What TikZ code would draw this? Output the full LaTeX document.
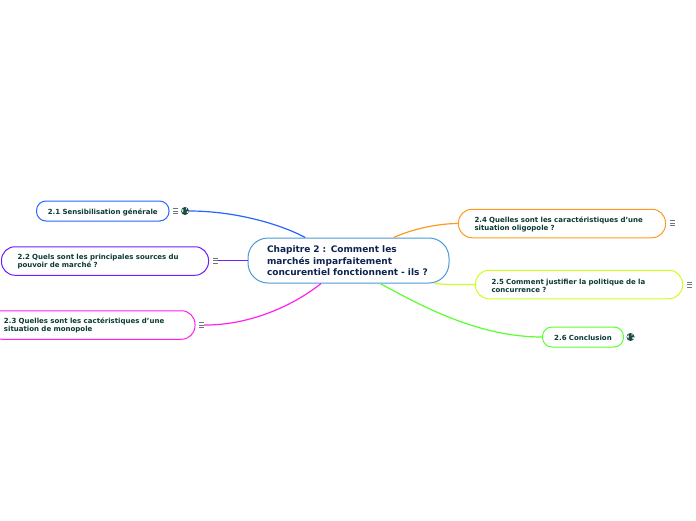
\documentclass[tikz,border=0pt]{standalone}
\usepackage{fontspec}
\setmainfont{DejaVu Sans}
\definecolor{cRoot}{HTML}{4A9AD8}
\definecolor{cA}{HTML}{2864FF}
\definecolor{cB}{HTML}{6A20FF}
\definecolor{cC}{HTML}{FF20F0}
\definecolor{cD}{HTML}{FF9A1E}
\definecolor{cE}{HTML}{CCFF1E}
\definecolor{cF}{HTML}{5AFF2E}
\definecolor{tRoot}{HTML}{0E2350}
\definecolor{tChild}{HTML}{0B3A33}
\definecolor{iconGrey}{HTML}{6A7A7A}
\definecolor{globeDark}{HTML}{1F4A40}
\usetikzlibrary{calc}
\tikzset{
  rootbox/.style={draw=cRoot,fill=white,line width=1pt,rounded corners=20pt,minimum width=201pt,minimum height=45pt,inner sep=0pt,text width=163pt,align=left,text=tRoot,font=\bfseries\fontsize{9pt}{11.5pt}\selectfont,execute at begin node={\rule{0pt}{7.6pt}}},
  childtwo/.style={draw=#1,fill=white,line width=1pt,rounded corners=13.5pt,minimum width=207pt,minimum height=28.5pt,inner sep=0pt,text width=175pt,align=left,text=tChild,font=\bfseries\fontsize{7pt}{8pt}\selectfont,execute at begin node={\rule{0pt}{7.4pt}}},
  childone/.style={draw=#1,fill=white,line width=1pt,rounded corners=9.5pt,minimum height=20pt,inner sep=0pt,text width=120pt,align=center,text=tChild,font=\bfseries\fontsize{7pt}{8pt}\selectfont,execute at begin node={\rule{0pt}{8pt}}},
  link/.style={draw=#1,line width=1.2pt},
  menuicon/.style={minimum width=5pt,minimum height=6pt,inner sep=0pt,path picture={
    \foreach \k in {0.08,0.5,0.92}{\draw[iconGrey,line width=0.8pt] ($(path picture bounding box.south west)!\k!(path picture bounding box.north west)$) -- ($(path picture bounding box.south east)!\k!(path picture bounding box.north east)$);}}},
  globeicon/.style={circle,fill=globeDark,minimum size=8pt,inner sep=0pt,path picture={
    \fill[white!80!cyan] ([xshift=-3.6pt,yshift=0.5pt]path picture bounding box.center) -- ++(1.6pt,1.8pt) -- ++(0.4pt,-2pt) -- ++(-0.6pt,-2pt) -- cycle;
    \fill[white!80!cyan] ([xshift=1.2pt,yshift=3.4pt]path picture bounding box.center) -- ++(1.2pt,-1.4pt) -- ++(-1.5pt,-0.6pt) -- cycle;
    \fill[white!80!cyan] ([xshift=1.5pt,yshift=-0.8pt]path picture bounding box.center) -- ++(2pt,1pt) -- ++(0pt,-2.2pt) -- ++(-1.4pt,0pt) -- cycle;}},
}
\begin{document}
\begin{tikzpicture}[x=1pt,y=-1pt]
\useasboundingbox (0,0) rectangle (696,520);
% nodes
\node[rootbox] (root) at (348.5,260.5) {Chapitre 2 : Comment les\\marchés imparfaitement\\concurentiel fonctionnent - ils ?};
\node[childone=cA,minimum width=132.5pt] (n1) at (102.75,211) {2.1 Sensibilisation générale};
\node[childtwo=cB] (n2) at (105,261) {2.2 Quels sont les principales sources du\\pouvoir de marché ?};
\node[childtwo=cC] (n3) at (91.5,325) {2.3 Quelles sont les cactéristiques d'une\\situation de monopole};
\node[childtwo=cD] (n4) at (562,223.5) {2.4 Quelles sont les caractéristiques d'une\\situation oligopole ?};
\node[childtwo=cE] (n5) at (579,284.5) {2.5 Comment justifier la politique de la\\concurrence ?};
\node[childone=cF,minimum width=81pt,text width=70pt] (n6) at (583,337) {2.6 Conclusion};
% icons
\node[menuicon] (m1) at (175.5,211) {};
\node[globeicon] (g1) at (185,211) {};
\node[menuicon] (m2) at (215.5,260.5) {};
\node[menuicon] (m3) at (201.5,325) {};
\node[menuicon] (m4) at (672.5,223) {};
\node[menuicon] (m5) at (689.5,284.5) {};
\node[globeicon] (g6) at (630.5,337) {};
% connectors
\draw[link=cA] (root.152.7) .. controls (280,224) and (235,211) .. (g1.east);
\draw[link=cB,line width=1pt] (root.west) -- (m2.east);
\draw[link=cC] (root.220.3) .. controls (285,312) and (240,325.5) .. (m3.east);
\draw[link=cD] (root.27.3) .. controls (415,228) and (440,223.5) .. (n4.west);
\draw[link=cE] (root.345.4) .. controls (450,285) and (462,284.5) .. (n5.west);
\draw[link=cF] (root.324.5) .. controls (425,308) and (480,337) .. (n6.west);
\end{tikzpicture}
\end{document}
